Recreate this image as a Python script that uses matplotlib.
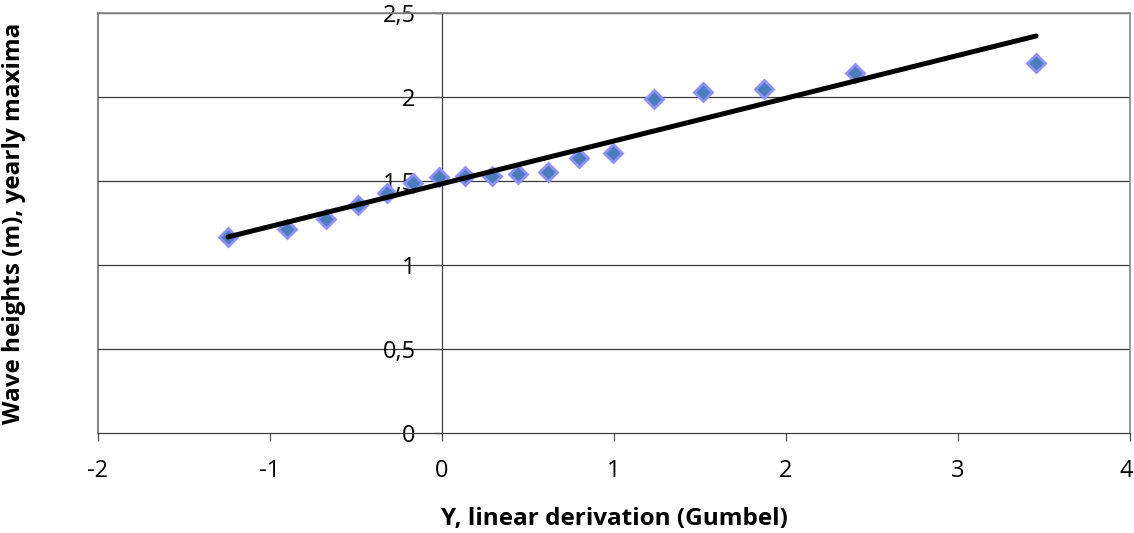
import numpy as np
import matplotlib.pyplot as plt
from matplotlib.transforms import ScaledTranslation

# Gumbel reduced variate vs. yearly maximum wave heights
gumbel_y = [-1.244, -0.901, -0.674, -0.488, -0.320, -0.169, -0.017, 0.134, 0.290,
            0.442, 0.616, 0.797, 0.994, 1.233, 1.517, 1.872, 2.401, 3.453]
wave_h = [1.167, 1.214, 1.274, 1.357, 1.430, 1.488, 1.524, 1.530, 1.530,
          1.542, 1.554, 1.637, 1.667, 1.988, 2.030, 2.048, 2.143, 2.202]

# fitted line end points
trend_x = [-1.244, 3.453]
trend_y = [1.167, 2.363]

x_ticks = [-2, -1, 0, 1, 2, 3, 4]
y_ticks = [0, 0.5, 1, 1.5, 2, 2.5]
y_labels = ['0', '0,5', '1', '1,5', '2', '2,5']

plt.rcParams['font.family'] = ['Open Sans', 'DejaVu Sans']

fig = plt.figure(figsize=(11.34, 5.33), dpi=100)
ax = fig.add_axes([0.0864, 0.1876, 0.9101, 0.788])

ax.set_xlim(-2, 4)
ax.set_ylim(0, 2.5)

for yv in y_ticks[1:]:
    ax.axhline(yv, color='#3a3a3a', lw=0.9, zorder=1)

ax.plot(gumbel_y, wave_h, linestyle='none', marker='D', markersize=9.5,
        markerfacecolor='#4a7ebb', markeredgecolor='#8f8fff', markeredgewidth=2, zorder=3)
ax.plot(trend_x, trend_y, color='black', lw=3.6, solid_capstyle='round', zorder=4)

# y axis crosses at x = 0, gray frame around the plot area
ax.spines['left'].set_position(('data', 0))
ax.spines['left'].set_color('#404040')
ax.spines['left'].set_linewidth(0.9)
for s in ['top', 'right']:
    ax.spines[s].set_color('#888888')
    ax.spines[s].set_linewidth(1.2)
ax.spines['bottom'].set_color('#404040')
ax.spines['bottom'].set_linewidth(0.9)
ax.plot([0, 0], [0, 1], transform=ax.transAxes, color='#888888', lw=1.5, clip_on=False, zorder=0)

ax.set_xticks(x_ticks)
ax.set_xticklabels([str(v) for v in x_ticks])
ax.set_yticks(y_ticks)
ax.set_yticklabels(y_labels)
ax.tick_params(axis='both', labelsize=17, length=6, width=0.9, color='#505050')
ax.tick_params(axis='x', pad=13)
ax.tick_params(axis='y', pad=13)

# keep the last x label inside the picture
last = ax.get_xticklabels()[-1]
last.set_transform(last.get_transform() + ScaledTranslation(-4 / 100, 0, fig.dpi_scale_trans))

ax.set_xlabel('Y, linear derivation (Gumbel)', fontsize=17.5, fontweight='bold')
ax.xaxis.set_label_coords(0.5, -0.176)
ax.set_ylabel('Wave heights (m), yearly maxima', fontsize=17.5, fontweight='bold')
ax.yaxis.set_label_coords(-0.0697, 0.5)

fig.savefig('out.png', dpi=100)
